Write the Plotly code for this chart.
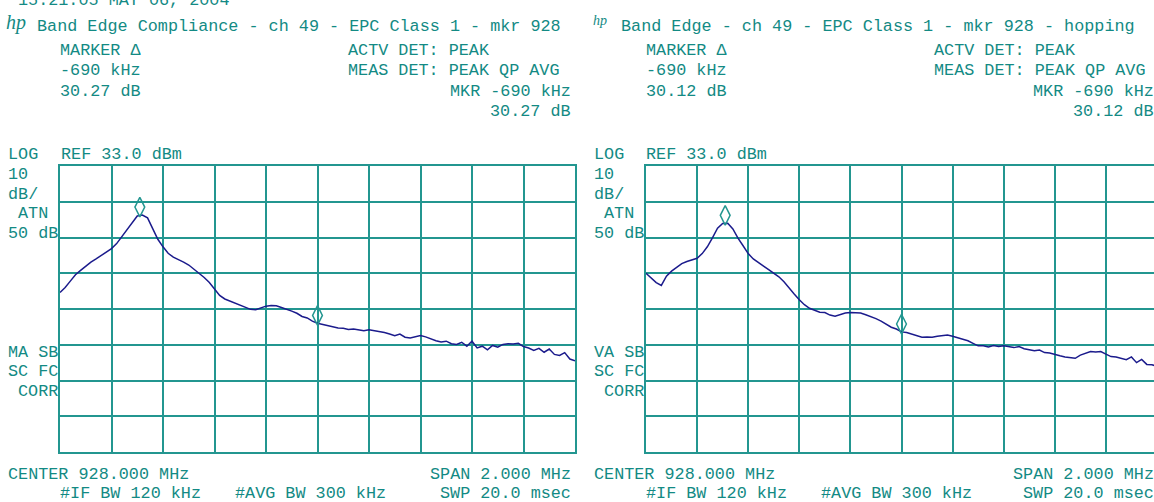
import numpy as np
import plotly.graph_objects as go

# ---------------- data ----------------
START_MHZ = 927.0
STOP_MHZ = 929.0
N_POINTS = 101
freq_mhz = np.linspace(START_MHZ, STOP_MHZ, N_POINTS)

REF_LEVEL = 33.0
DB_PER_DIV = 10.0
N_YDIV = 8
N_XDIV = 10

left_trace_dbm = [
    -2.4, -1.0, 0.8, 2.6, 3.8, 5.0, 6.1, 7.0, 8.0, 8.9,
    9.9, 11.3, 13.3, 15.3, 17.2, 19.0, 19.3, 18.5, 15.5, 12.5,
    10.4, 8.6, 7.5, 6.9, 6.1, 5.3, 4.2, 3.0, 1.8, 0.4,
    -1.5, -3.2, -4.2, -4.8, -5.2, -5.8, -6.5, -7.1, -7.2, -6.6,
    -6.2, -6.0, -6.1, -6.6, -7.0, -7.6, -8.2, -9.1, -9.5, -10.4,
    -11.0, -11.3, -11.8, -12.0, -12.3, -12.4, -12.7, -12.6, -12.8, -13.1,
    -12.8, -13.0, -13.3, -13.6, -14.0, -14.5, -14.0, -14.9, -15.1, -14.7,
    -14.4, -14.8, -15.4, -15.9, -16.2, -16.0, -16.7, -16.9, -16.3, -17.4,
    -16.0, -17.9, -17.4, -18.4, -17.2, -17.7, -16.9, -16.7, -16.8, -16.6,
    -17.5, -17.9, -18.6, -18.0, -19.1, -18.2, -19.7, -20.0, -19.2, -21.0,
    -21.5,
]

right_trace_dbm = [
    3.0, 1.6, 0.4, -0.4, 2.2, 3.6, 4.6, 5.7, 6.3, 6.7,
    7.2, 8.5, 10.4, 12.9, 15.6, 16.9, 17.0, 15.4, 12.8, 10.7,
    8.5, 7.0, 5.9, 5.0, 4.0, 3.1, 2.0, 0.6, -1.2, -2.8,
    -4.4, -5.8, -6.8, -7.3, -7.9, -8.0, -8.7, -9.0, -8.5, -8.1,
    -8.0, -8.0, -8.1, -8.6, -9.1, -9.7, -10.4, -11.2, -12.1, -12.6,
    -13.4, -13.6, -14.1, -14.4, -14.9, -14.8, -14.9, -14.6, -14.5, -14.3,
    -14.6, -15.0, -15.4, -15.9, -16.6, -17.3, -17.3, -17.6, -17.2, -17.5,
    -17.3, -17.6, -17.8, -17.5, -18.1, -18.4, -18.7, -18.5, -19.2, -19.3,
    -19.8, -20.1, -20.4, -20.7, -20.8, -19.9, -19.3, -18.9, -19.0, -18.9,
    -19.6, -20.3, -20.4, -20.9, -21.2, -20.4, -22.0, -21.1, -22.5, -22.6,
    -23.0,
]

marker_freqs_mhz = [927.31, 928.0]
marker_delta_khz = -690
left_delta_db = "30.27"
right_delta_db = "30.12"

left_title = "Band Edge Compliance - ch 49 - EPC Class 1 - mkr 928"
right_title = "Band Edge - ch 49 - EPC Class 1 - mkr 928 - hopping"
timestamp = "15:21:05 MAY 06, 2004"

# ---------------- style ----------------
W, H = 1154, 502
GRID = "#239690"
TEXT = "#138a84"
TRACE = "#1b1b8c"
FONT = "Liberation Mono"
FS = 16.8
MARKER_OFFSET_DB = 2.2

fig = go.Figure()

def px_x(p):
    return p / W

def px_y(p):
    return 1 - p / H

ymin = REF_LEVEL - DB_PER_DIV * N_YDIV
yticks = [ymin + DB_PER_DIV * k for k in range(N_YDIV + 1)]
xticks = [START_MHZ + (STOP_MHZ - START_MHZ) / N_XDIV * k for k in range(N_XDIV + 1)]

ydom = [px_y(452), px_y(166)]

def axis_common():
    return dict(
        showgrid=True, gridcolor=GRID, gridwidth=2,
        showticklabels=False, ticks="", zeroline=False,
        showline=True, linecolor=GRID, linewidth=2,
    )

# left panel
fig.update_layout(
    xaxis=dict(domain=[px_x(60), px_x(575)], range=[START_MHZ, STOP_MHZ],
               tickvals=xticks, mirror=True, anchor="y", **axis_common()),
    yaxis=dict(domain=ydom, range=[ymin, REF_LEVEL], tickvals=yticks,
               mirror=True, anchor="x", **axis_common()),
)
# right panel (cut by the picture's right edge)
right_px_per_mhz = 255.5
fig.update_layout(
    xaxis2=dict(domain=[px_x(646), 1.0],
                range=[START_MHZ, START_MHZ + (W - 646) / right_px_per_mhz],
                tickvals=xticks, mirror=True, anchor="y2", **axis_common()),
    yaxis2=dict(domain=ydom, range=[ymin, REF_LEVEL], tickvals=yticks,
                mirror=False, anchor="x2", **axis_common()),
)

for trace, xa, ya in [(left_trace_dbm, "x", "y"), (right_trace_dbm, "x2", "y2")]:
    fig.add_trace(go.Scatter(
        x=freq_mhz, y=trace, mode="lines", xaxis=xa, yaxis=ya,
        line=dict(color=TRACE, width=1.5), showlegend=False, hoverinfo="skip",
    ))
    arr = np.array(trace)
    idx_ref = int(np.argmin(np.abs(freq_mhz - marker_freqs_mhz[1])))
    my = [arr.max() + MARKER_OFFSET_DB, arr[idx_ref] + MARKER_OFFSET_DB]
    fig.add_trace(go.Scatter(
        x=marker_freqs_mhz, y=my, mode="markers", xaxis=xa, yaxis=ya,
        marker=dict(symbol="diamond-tall-open", size=14, color=GRID,
                    line=dict(color=GRID, width=1.5)),
        showlegend=False, hoverinfo="skip",
    ))

annotations = []

def txt(s, x, y, anchor="left", size=FS, color=TEXT, family=FONT):
    annotations.append(dict(
        text=s, x=px_x(x), y=px_y(y), xref="paper", yref="paper",
        xanchor=anchor, yanchor="middle", showarrow=False,
        font=dict(family=family, size=size, color=color),
    ))

def panel_text(dx, delta, sb_label, right_edge):
    txt("MARKER \u0394", 58 + dx, 50)
    txt("ACTV DET: PEAK", 346 + dx, 50)
    txt(f"{marker_delta_khz} kHz", 58 + dx, 71)
    txt("MEAS DET: PEAK QP AVG", 346 + dx, 71)
    txt(f"{delta} dB", 58 + dx, 91)
    txt(f"MKR {marker_delta_khz} kHz", right_edge, 91, "right")
    txt(f"{delta} dB", right_edge, 111, "right")
    txt("LOG", 6 + dx, 155)
    txt(f"REF {REF_LEVEL:.1f} dBm", 59 + dx, 155)
    txt(f"{int(DB_PER_DIV)}", 6 + dx, 174)
    txt("dB/", 6 + dx, 194)
    txt("ATN", 16 + dx, 213)
    txt("50 dB", 6 + dx, 233)
    txt(sb_label, 6 + dx, 352)
    txt("SC FC", 6 + dx, 371)
    txt("CORR", 16 + dx, 391)
    txt("CENTER 928.000 MHz", 6 + dx, 474)
    txt("SPAN 2.000 MHz", right_edge, 474, "right")
    txt("#IF BW 120 kHz", 58 + dx, 493)
    txt("#AVG BW 300 kHz", 233 + dx, 493)
    txt("SWP 20.0 msec", right_edge, 493, "right")

DX = 585.5
panel_text(0, left_delta_db, "MA SB", 573)
panel_text(DX, right_delta_db, "VA SB", 1156)

txt(left_title, 35, 27)
txt(right_title, 619, 27)
txt(timestamp, 16, 0)
txt("<i>hp</i>", 4, 23, size=20, family="Liberation Serif")
txt("<i>hp</i>", 591, 21, size=14, family="Liberation Serif")

fig.update_layout(
    width=W, height=H, margin=dict(l=0, r=0, t=0, b=0),
    paper_bgcolor="white", plot_bgcolor="white",
    annotations=annotations, showlegend=False,
)

fig.write_html("out.html")
